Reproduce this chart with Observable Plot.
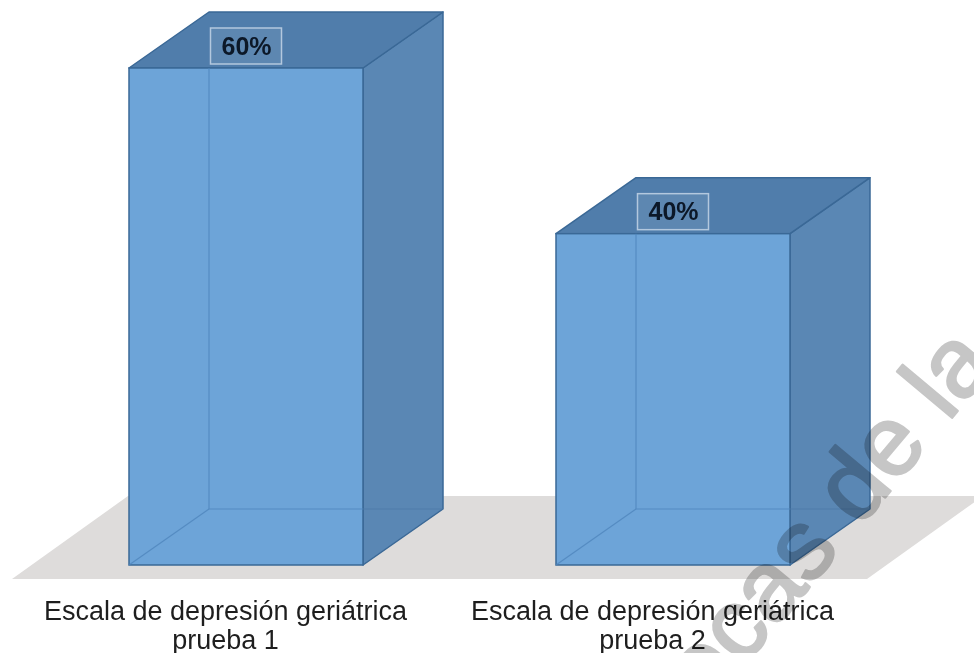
<!DOCTYPE html>
<html>
<head>
<meta charset="utf-8">
<script src="https://cdn.jsdelivr.net/npm/d3@7"></script>
<script src="https://cdn.jsdelivr.net/npm/@observablehq/plot@0.6"></script>
<style>
  html, body { margin: 0; padding: 0; background: #ffffff; overflow: hidden; }
  #chart svg { display: block; }
</style>
</head>
<body>
<div id="chart"></div>
<script>
// ---- data ----
const categories = [
  "Escala de depresión geriátrica\nprueba 1",
  "Escala de depresión geriátrica\nprueba 2"
];
const values = [60, 40];
const valueLabels = ["60%", "40%"];
const watermarkText = "Bibliotecas de la";

const data = categories.map((c, i) => ({category: c, value: values[i], label: valueLabels[i]}));

// ---- style ----
const frontColor = "#6da4d8";
const topColor = "#507dab";
const rightColor = "#5a87b4";
const edgeColor = "#3a6896";
const innerLine = "#4f86bd";
const floorColor = "#dedcdb";
const depthX = 80, depthY = -56;

// floor under the bars (drawn from the scales)
function floor(index, {x, y}) {
  const [r0, r1] = x.range();
  const yb = y(0);
  const g = d3.create("svg:g");
  g.append("path")
    .attr("d", `M${r0 - 116},${yb + 14}L${r1 + 77},${yb + 14}L${r1 + 193},${yb - 69}L${r0},${yb - 69}Z`)
    .attr("fill", floorColor);
  return g.node();
}

// right and top faces of each cube
function sideFaces(index, {x, y}) {
  const bw = x.bandwidth();
  const g = d3.create("svg:g");
  for (const d of data) {
    const x0 = x(d.category), x1 = x0 + bw, yt = y(d.value), yb = y(0);
    g.append("path")
      .attr("d", `M${x1},${yt}L${x1 + depthX},${yt + depthY}L${x1 + depthX},${yb + depthY}L${x1},${yb}Z`)
      .attr("fill", rightColor).attr("stroke", edgeColor).attr("stroke-width", 1.5).attr("stroke-linejoin", "round");
    g.append("path")
      .attr("d", `M${x0},${yt}L${x0 + depthX},${yt + depthY}L${x1 + depthX},${yt + depthY}L${x1},${yt}Z`)
      .attr("fill", topColor).attr("stroke", edgeColor).attr("stroke-width", 1.5).attr("stroke-linejoin", "round");
  }
  return g.node();
}

// hidden back edges seen through the translucent cube
function hiddenEdges(index, {x, y}) {
  const bw = x.bandwidth();
  const g = d3.create("svg:g").attr("fill", "none").attr("stroke", innerLine).attr("stroke-width", 1.2).attr("stroke-opacity", 0.8);
  for (const d of data) {
    const x0 = x(d.category), x1 = x0 + bw, yt = y(d.value), yb = y(0);
    g.append("path").attr("d", `M${x0 + depthX},${yt}L${x0 + depthX},${yb + depthY}L${x1},${yb + depthY}`);
    g.append("path").attr("d", `M${x0},${yb}L${x0 + depthX},${yb + depthY}`);
    g.append("path").attr("d", `M${x1},${yb + depthY}L${x1 + depthX},${yb + depthY}`).attr("stroke", "#4b78a6");
  }
  return g.node();
}

// boxes around the value labels
function labelBoxes(index, {x, y}) {
  const bw = x.bandwidth();
  const g = d3.create("svg:g");
  for (const d of data) {
    const cx = x(d.category) + bw / 2, cy = y(d.value) - 22;
    g.append("rect")
      .attr("x", cx - 35.5).attr("y", cy - 18).attr("width", 71).attr("height", 36)
      .attr("fill", "#ffffff").attr("fill-opacity", 0.08)
      .attr("stroke", "#b3c8de").attr("stroke-width", 1.5);
  }
  return g.node();
}

const chart = Plot.plot({
  width: 974,
  height: 653,
  marginLeft: 128,
  marginRight: 184,
  marginTop: 68,
  marginBottom: 88,
  style: {background: "#ffffff", fontFamily: "'Liberation Sans', Arial, sans-serif", overflow: "visible"},
  x: {domain: categories, paddingInner: 0.453, paddingOuter: 0, axis: null},
  y: {domain: [0, 60], axis: null},
  marks: [
    floor,
    sideFaces,
    Plot.barY(data, {x: "category", y: "value", fill: frontColor, stroke: edgeColor, strokeWidth: 1.5}),
    hiddenEdges,
    labelBoxes,
    Plot.text(data, {x: "category", y: "value", text: "label", dy: -22, fontSize: 25, fontWeight: "bold", fill: "#0c1828"}),
    Plot.text(data, {x: "category", y: 0, text: "category", dx: -21, dy: 35, lineAnchor: "top", fontSize: 27, lineHeight: 1.04, fill: "#1e1e1e"}),
    Plot.text([watermarkText], {frameAnchor: "top-left", text: d => d, dx: 815, dy: 250, rotate: -50, textAnchor: "end",
      fontSize: 99, fill: "#c6c6c6", stroke: "#c6c6c6", strokeWidth: 2.5, mixBlendMode: "multiply"})
  ]
});
document.getElementById("chart").append(chart);
</script>
</body>
</html>
